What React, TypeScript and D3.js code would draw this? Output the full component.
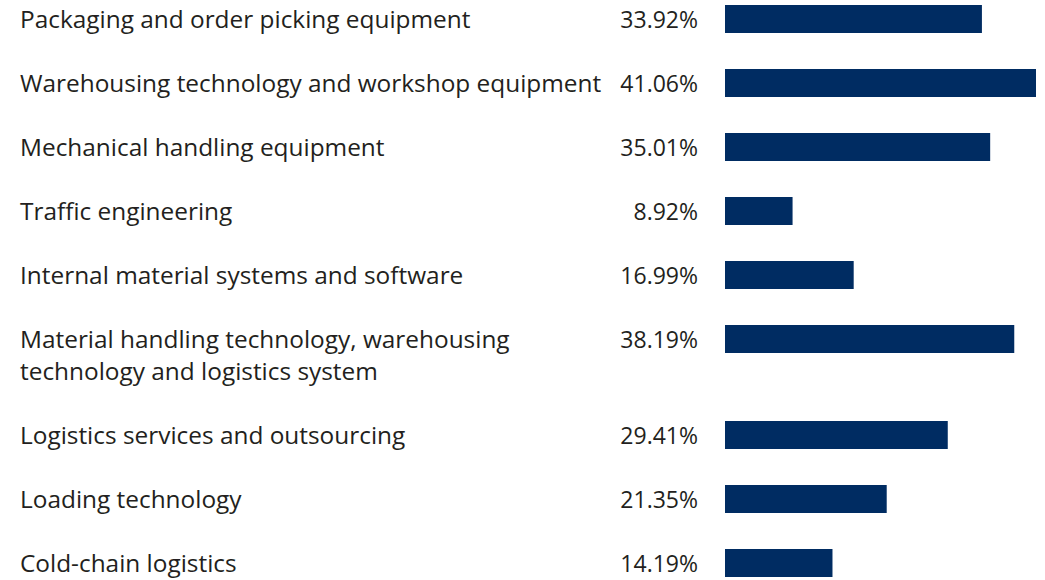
import React, { useRef, useEffect } from 'react';
import * as d3 from 'd3';

// categorie (le righe con "\n" vanno su due linee)
const categories: string[] = [
    'Packaging and order picking equipment',
    'Warehousing technology and workshop equipment',
    'Mechanical handling equipment',
    'Traffic engineering',
    'Internal material systems and software',
    'Material handling technology, warehousing\ntechnology and logistics system',
    'Logistics services and outsourcing',
    'Loading technology',
    'Cold-chain logistics',
];

const shares: number[] = [33.92, 41.06, 35.01, 8.92, 16.99, 38.19, 29.41, 21.35, 14.19];

const FONT = '"Open Sans", "Noto Sans", sans-serif';

const App: React.FC = () => {
    const ref = useRef<SVGSVGElement>(null);

    useEffect(() => {
        const svg = d3.select(ref.current);
        svg.selectAll('*').remove();

        const width = 1045;
        const height = 580;
        const rowH = 64;
        const lineH = 32;
        const barH = 28;
        const barX = 725;
        const valueX = 698;
        const labelX = 20;

        svg.attr('width', width).attr('height', height);

        // posizione verticale di ogni riga
        const rows = categories.map((c, i) => ({ lines: c.split('\n'), value: shares[i], top: 0 }));
        let acc = 0;
        rows.forEach(r => {
            r.top = acc;
            acc += rowH + lineH * (r.lines.length - 1);
        });

        const x = d3.scaleLinear()
            .domain([0, d3.max(shares) || 0])
            .range([0, 311]);

        const row = svg.selectAll('.row')
            .data(rows)
            .enter()
            .append('g')
            .attr('class', 'row')
            .attr('transform', d => `translate(0,${d.top})`);

        row.append('rect')
            .attr('x', barX)
            .attr('y', 5)
            .attr('width', d => x(d.value))
            .attr('height', barH)
            .style('fill', '#002c62');

        row.append('text')
            .attr('x', valueX)
            .attr('y', 28)
            .attr('text-anchor', 'end')
            .style('font-family', FONT)
            .style('font-size', '23px')
            .style('fill', '#231f20')
            .text(d => `${d.value.toFixed(2)}%`);

        row.each(function (d) {
            const t = d3.select(this).append('text')
                .attr('x', labelX)
                .attr('y', 28)
                .style('font-family', FONT)
                .style('font-size', '24.4px')
                .style('fill', '#231f20');
            d.lines.forEach((line, i) => {
                t.append('tspan')
                    .attr('x', labelX)
                    .attr('dy', i === 0 ? 0 : lineH)
                    .text(line);
            });
        });
    }, []);

    return <svg ref={ref} style={{ position: 'absolute', left: 0, top: 0 }} />;
};

export default App;
